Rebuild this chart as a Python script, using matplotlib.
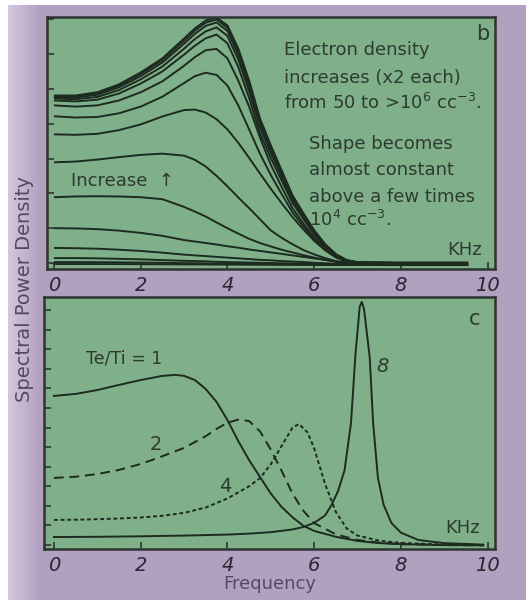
import numpy as np
import matplotlib
matplotlib.use("Agg")
import matplotlib.pyplot as plt

# ---------------- data: panel b (electron density series) ----------------
freq_b = [0, 0.5, 1, 1.5, 2, 2.5, 3, 3.25, 3.5, 3.75, 4, 4.25, 4.5, 4.75, 5,
          5.25, 5.5, 5.75, 6, 6.25, 6.5, 6.75, 7, 7.5, 8, 9.55]

dens_01 = [68.5, 68.5, 69.8, 73.0, 77.8, 83.5, 91.5, 95.6, 98.8, 100.0, 96.8, 87.5, 74.6, 59.3, 48.4,
           38.3, 28.2, 21.0, 14.1, 8.5, 4.4, 2.0, 1.2, 1.1, 1.0, 1.0]
dens_02 = [68.3, 68.2, 69.4, 72.5, 77.2, 82.8, 90.6, 94.7, 97.9, 99.2, 95.9, 86.4, 73.5, 58.4, 47.6,
           37.6, 27.7, 20.6, 13.8, 8.3, 4.3, 1.9, 1.1, 1.0, 0.9, 0.9]
dens_03 = [67.9, 67.7, 68.8, 71.8, 76.3, 81.8, 89.4, 93.4, 96.6, 98.0, 94.6, 85.0, 72.2, 57.3, 46.6,
           36.8, 27.1, 20.1, 13.5, 8.1, 4.2, 1.9, 1.0, 0.9, 0.8, 0.8]
dens_04 = [67.3, 67.0, 67.9, 70.7, 75.0, 80.2, 87.4, 91.3, 94.4, 96.0, 92.6, 83.0, 70.3, 55.6, 45.2,
           35.7, 26.3, 19.5, 13.0, 7.8, 4.0, 1.8, 0.9, 0.8, 0.7, 0.7]
dens_05 = [66.5, 66.1, 66.8, 69.3, 73.3, 78.2, 85.0, 88.6, 91.6, 93.1, 89.6, 80.0, 67.5, 53.3, 43.2,
           34.1, 25.1, 18.6, 12.4, 7.4, 3.8, 1.7, 0.8, 0.7, 0.6, 0.6]
dens_06 = [64.5, 64.0, 64.5, 66.5, 69.8, 74.2, 80.5, 84.0, 86.8, 87.3, 83.5, 74.5, 64.0, 51.5, 40.5,
           31.5, 23.0, 16.8, 11.2, 6.7, 3.4, 1.5, 0.7, 0.6, 0.5, 0.5]
dens_07 = [60.1, 59.6, 59.8, 61.3, 64.0, 68.0, 73.5, 76.3, 77.7, 76.8, 72.5, 64.5, 54.8, 45.0, 36.4,
           28.7, 21.3, 15.6, 10.4, 6.2, 3.2, 1.4, 0.6, 0.5, 0.4, 0.4]
dens_08 = [52.8, 52.6, 53.0, 54.5, 56.8, 60.0, 62.6, 62.8, 61.6, 58.9, 54.8, 49.4, 43.3, 37.0, 30.8,
           25.0, 19.4, 14.4, 9.8, 6.0, 3.1, 1.4, 0.5, 0.4, 0.3, 0.3]
dens_09 = [41.5, 41.8, 42.6, 43.6, 44.5, 45.0, 44.2, 42.5, 39.8, 36.0, 31.8, 27.3, 23.0, 18.5, 14.0,
           11.0, 8.4, 6.1, 4.3, 2.8, 1.6, 0.8, 0.3, 0.2, 0.2, 0.2]
dens_10 = [27.4, 27.7, 27.8, 27.7, 27.4, 26.6, 23.5, 21.6, 19.6, 17.2, 14.9, 12.7, 10.6, 8.9, 7.5,
           6.2, 5.1, 4.0, 3.0, 2.1, 1.3, 0.7, 0.3, 0.1, 0.1, 0.1]
dens_11 = [14.9, 14.8, 14.5, 13.9, 13.0, 11.8, 10.1, 9.5, 8.9, 8.3, 7.6, 7.0, 6.3, 5.7, 5.1,
           4.5, 3.9, 3.3, 2.7, 2.1, 1.5, 1.0, 0.6, 0.2, 0.1, 0.1]
dens_12 = [6.9, 6.8, 6.6, 6.2, 5.7, 5.0, 4.2, 3.9, 3.6, 3.3, 3.0, 2.7, 2.4, 2.1, 1.9,
           1.6, 1.4, 1.2, 0.9, 0.7, 0.5, 0.3, 0.2, 0.1, 0.0, 0.0]
dens_13 = [2.8, 2.8, 2.7, 2.5, 2.3, 2.0, 1.7, 1.6, 1.5, 1.3, 1.2, 1.1, 1.0, 0.9, 0.8,
           0.7, 0.6, 0.5, 0.4, 0.3, 0.2, 0.1, 0.1, 0.0, 0.0, 0.0]
dens_14 = [1.2, 1.2, 1.15, 1.1, 1.0, 0.9, 0.75, 0.7, 0.65, 0.6, 0.55, 0.5, 0.45, 0.4, 0.35,
           0.3, 0.25, 0.2, 0.18, 0.14, 0.1, 0.06, 0.04, 0.0, 0.0, 0.0]
dens_15 = [0.4, 0.4, 0.4, 0.38, 0.35, 0.3, 0.26, 0.24, 0.22, 0.2, 0.18, 0.16, 0.14, 0.12, 0.1,
           0.09, 0.08, 0.06, 0.05, 0.04, 0.03, 0.02, 0.01, 0.0, 0.0, 0.0]
density_series = [dens_01, dens_02, dens_03, dens_04, dens_05, dens_06, dens_07, dens_08,
                  dens_09, dens_10, dens_11, dens_12, dens_13, dens_14, dens_15]

# ---------------- data: panel c (Te/Ti series) ----------------
freq_t1 = [0, 0.5, 1, 1.5, 2, 2.5, 2.8, 3, 3.25, 3.5, 3.75, 4, 4.25, 4.5, 4.75, 5, 5.25, 5.5,
           5.75, 6, 6.5, 7, 7.5, 8, 9, 9.9]
ratio_1 = [61.5, 62.3, 63.9, 66.0, 68.0, 69.7, 70.1, 69.7, 68.0, 64.3, 59.0, 51.6, 43.0, 35.2,
           28.3, 21.5, 16.0, 11.8, 8.3, 6.2, 3.8, 2.1, 1.2, 0.8, 0.4, 0.3]

freq_t2 = [0, 0.5, 1, 1.5, 2, 2.5, 3, 3.5, 3.75, 4, 4.25, 4.5, 4.75, 5, 5.25, 5.5, 5.75, 6,
           6.5, 7, 7.5, 8, 9, 9.9]
ratio_2 = [27.9, 28.4, 29.5, 31.2, 33.6, 36.8, 40.2, 45.0, 48.0, 50.5, 51.8, 51.2, 47.0, 39.5,
           30.8, 21.5, 14.5, 9.4, 4.8, 2.5, 1.4, 0.8, 0.4, 0.3]

freq_t4 = [0, 0.5, 1, 1.5, 2, 2.5, 3, 3.5, 4, 4.5, 4.75, 5, 5.25, 5.5, 5.65, 5.85, 6, 6.25,
           6.5, 6.75, 7, 7.5, 8, 9, 9.9]
ratio_4 = [10.7, 10.8, 11.0, 11.3, 11.7, 12.4, 13.6, 15.8, 19.5, 24.5, 27.8, 33.5, 41.0, 48.5,
           50.0, 46.5, 40.0, 25.5, 14.0, 7.2, 4.3, 2.2, 1.3, 0.6, 0.4]

freq_t8 = [0, 1, 2, 3, 4, 4.5, 5, 5.5, 5.75, 6, 6.25, 6.4, 6.55, 6.7, 6.85, 6.95, 7.05, 7.1,
           7.15, 7.28, 7.36, 7.47, 7.6, 7.78, 8, 8.4, 9, 9.9]
ratio_8 = [3.7, 3.8, 4.0, 4.3, 4.7, 5.1, 5.7, 6.8, 7.8, 9.5, 12.5, 16.8, 22.5, 31.0, 50.5, 78.0,
           98.0, 100.0, 97.0, 77.5, 50.4, 28.0, 17.0, 9.5, 5.5, 2.5, 1.2, 0.6]

x_ticks = [0, 2, 4, 6, 8, 10]
x_tick_labels = ["0", "2", "4", "6", "8", "10"]

# ---------------- style ----------------
GREEN = "#80b08a"
LINE = "#1d2a20"
TXT = "#2d3a30"
LABEL = "#574862"

fig = plt.figure(figsize=(5.26, 6.07), dpi=100)

# background: white margin, purple panel with lighter left band
bg = fig.add_axes([0, 0, 1, 1], zorder=-10)
img = np.ones((607, 526, 3))
base = np.array([178, 160, 193]) / 255.0
light = np.array([212, 198, 220]) / 255.0
img[5:600, 8:, :] = base
for c in range(8, 40):
    t = (c - 8) / 32.0
    img[5:600, c, :] = light * (1 - t) + base * t
bg.imshow(img, extent=[0, 526, 607, 0], aspect="auto", interpolation="bilinear")
bg.set_xlim(0, 526)
bg.set_ylim(607, 0)
bg.axis("off")


def style_axes(ax, yticks, xlim):
    ax.set_facecolor(GREEN)
    for s in ax.spines.values():
        s.set_color("#2e3530")
        s.set_linewidth(1.8)
    ax.set_xlim(*xlim)
    ax.set_xticks(x_ticks)
    ax.set_xticklabels(x_tick_labels, fontsize=14, color="#2a2632", style="italic")
    ax.tick_params(axis="x", direction="in", length=5, width=1.2, pad=5, colors="#2e3530",
                   labelcolor="#2a2632")
    ax.set_yticks(yticks)
    ax.set_yticklabels([])
    ax.tick_params(axis="y", direction="in", length=5, width=1.2, colors="#2e3530")


# ---------------- panel b ----------------
axb = fig.add_axes([47 / 526, 1 - 269 / 607, 448 / 526, 252 / 607])
style_axes(axb, np.linspace(0.8, 99.2, 8), (-0.16, 10.17))
axb.set_ylim(-1.6, 100.2)
for series in density_series:
    axb.plot(freq_b, series, color=LINE, lw=1.4, solid_capstyle="butt")

tk = dict(color=TXT, fontsize=13)
axb.text(9.88, 93.5, "b", ha="center", va="center", color=TXT, fontsize=15)
axb.text(5.3, 86.7, "Electron density", ha="left", va="center", **tk)
axb.text(5.3, 75.4, "increases (x2 each)", ha="left", va="center", **tk)
axb.text(5.3, 65.3, r"from 50 to >10$^{6}$ cc$^{-3}$.", ha="left", va="center", **tk)
axb.text(5.88, 48.8, "Shape becomes", ha="left", va="center", **tk)
axb.text(5.88, 38.3, "almost constant", ha="left", va="center", **tk)
axb.text(5.88, 27.4, "above a few times", ha="left", va="center", **tk)
axb.text(5.88, 18.1, r"10$^{4}$ cc$^{-3}$.", ha="left", va="center", **tk)
axb.text(0.39, 33.9, "Increase  \u2191", ha="left", va="center", **tk)
axb.text(9.47, 6.0, "KHz", ha="center", va="center", **tk)

# ---------------- panel c ----------------
axc = fig.add_axes([44 / 526, 1 - 549 / 607, 451 / 526, 252 / 607])
style_axes(axc, np.linspace(0.4, 96.7, 13), (-0.23, 10.17))
axc.set_ylim(-1.2, 102.0)
axc.plot(freq_t1, ratio_1, color=LINE, lw=1.4)
axc.plot(freq_t2, ratio_2, color=LINE, lw=1.4, dashes=(5, 3))
axc.plot(freq_t4, ratio_4, color=LINE, lw=1.4, dashes=(2, 1.4))
axc.plot(freq_t8, ratio_8, color=LINE, lw=1.4)

axc.text(0.75, 77.0, "Te/Ti = 1", ha="left", va="center", color=TXT, fontsize=12.5)
axc.text(2.35, 41.8, "2", ha="center", va="center", color=TXT, fontsize=14)
axc.text(3.96, 24.2, "4", ha="center", va="center", color=TXT, fontsize=14)
axc.text(7.57, 73.4, "8", ha="center", va="center", color=TXT, fontsize=14, style="italic")
axc.text(9.42, 7.4, "KHz", ha="center", va="center", **tk)
axc.text(9.7, 93.0, "c", ha="center", va="center", color=TXT, fontsize=15)
axc.set_xlabel("Frequency", fontsize=13, color=LABEL, labelpad=0)

fig.text(25 / 526, 1 - 289 / 607, "Spectral Power Density", rotation=90, ha="center",
         va="center", fontsize=14, color=LABEL)

fig.savefig("out.png", dpi=100)
